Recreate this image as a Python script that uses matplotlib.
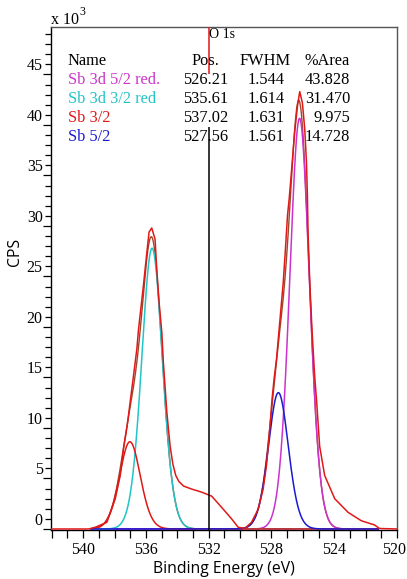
import numpy as np
import matplotlib
matplotlib.use("Agg")
import matplotlib.pyplot as plt
from matplotlib.ticker import MultipleLocator
from matplotlib.transforms import ScaledTranslation

# ---- data ----
# measured spectrum: binding energy (eV) and CPS (x10^3)
data_be = [542.0, 539.65, 539.23, 538.49, 537.96, 537.64, 537.43, 537.19, 537.01, 536.79,
           536.58, 536.47, 536.16, 535.94, 535.80, 535.63, 535.42, 535.31, 535.16, 534.99,
           534.89, 534.67, 534.46, 534.28, 534.10, 533.90, 533.60, 533.08, 532.45, 531.81,
           531.18, 530.54, 530.12, 529.70, 529.27, 528.84, 528.53, 528.32, 528.11, 527.96,
           527.83, 527.68, 527.47, 527.25, 527.11, 526.98, 526.87, 526.73, 526.52, 526.34,
           526.20, 526.03, 525.88, 525.77, 525.71, 525.67, 525.56, 525.41, 525.25, 525.12,
           524.93, 524.61, 523.97, 523.12, 522.28, 521.43, 521.12, 520.0]
data_cps = [0.0, 0.0, 0.17, 0.66, 2.97, 5.28, 7.92, 10.3, 12.5, 15.2,
            17.8, 19.8, 24.1, 27.4, 29.4, 29.8, 28.7, 25.7, 22.4, 19.5,
            16.5, 11.6, 8.2, 6.4, 5.3, 4.7, 4.25, 3.95, 3.65, 3.25,
            2.15, 1.0, 0.17, 0.05, 0.66, 1.98, 3.96, 6.27, 9.9, 12.9,
            14.9, 16.8, 20.5, 24.4, 27.7, 31.0, 32.7, 35.3, 39.3, 41.9,
            43.3, 42.2, 39.6, 36.3, 33.0, 29.4, 24.4, 19.5, 15.2, 12.6,
            8.2, 5.3, 3.0, 1.65, 0.82, 0.4, 0.05, 0.0]

# fitted components (table values + peak heights, x10^3)
comp_names = ["Sb 3d 5/2 red.", "Sb 3d 3/2 red", "Sb 3/2", "Sb 5/2"]
comp_pos = [526.21, 535.61, 537.02, 527.56]
comp_fwhm = [1.544, 1.614, 1.631, 1.561]
comp_area = [43.828, 31.470, 9.975, 14.728]
comp_height = [40.66, 27.8, 8.64, 13.5]
comp_colors = ["#cc33cc", "#22c4c8", "#e01818", "#1a1ad0"]

x_ticks = [540, 536, 532, 528, 524, 520]

region = (539.5, 521.2)  # fit region (eV)

plt.rcParams['font.family'] = ['Liberation Serif', 'DejaVu Serif']

fig = plt.figure(figsize=(4.07, 5.79), dpi=100)
ax = fig.add_axes([51/407, 49/579, 346/407, 503/579])

# components: GL(30) line shape from table parameters
be = np.linspace(region[0], region[1], 800)
env = np.zeros_like(be)
comps = []
for p, f, h in zip(comp_pos, comp_fwhm, comp_height):
    u = (be - p) ** 2 / f ** 2
    y = h * np.exp(-4 * np.log(2) * 0.7 * u) / (1 + 4 * 0.3 * u)
    comps.append(y)
    env += y

ax.plot(be, np.zeros_like(be), color="#1a1ad0", lw=1.1, zorder=2)
ax.plot(be, env, color="#9a4a2a", lw=1.0, zorder=3)
for y, c in zip(comps, comp_colors):
    ax.plot(be, y, color=c, lw=1.1, zorder=4)
ax.plot(data_be, data_cps, color="#e01818", lw=1.1, zorder=5)

# marker lines
ax.vlines(532, 45.0, 49.7, color="#e01818", lw=1.1, zorder=6)
ax.vlines(532, -0.1, 39.8, color="black", lw=1.1, zorder=6)
ax.text(532, 49.0, "O 1s", fontsize=10, ha="left", va="center", zorder=7)

ax.set_xlim(542.05, 520.0)
ax.set_ylim(-0.1, 49.7)

ax.set_xticks(x_ticks)
ax.xaxis.set_minor_locator(MultipleLocator(1))
ax.yaxis.set_major_locator(MultipleLocator(5))
ax.yaxis.set_minor_locator(MultipleLocator(1))
ax.tick_params(axis='x', which='both', direction='out', length=6, width=0.9, labelsize=11.5, pad=3)
ax.tick_params(axis='y', which='major', direction='out', length=6, width=0.9, labelsize=11.5, pad=0)
ax.tick_params(axis='y', which='minor', direction='out', length=4, width=0.9)
for lab in ax.get_yticklabels():
    lab.set_va('bottom')

for s in ['left', 'bottom']:
    ax.spines[s].set_color('black')
    ax.spines[s].set_linewidth(1.0)
for s in ['top', 'right']:
    ax.spines[s].set_color('#555555')
    ax.spines[s].set_linewidth(1.0)

fig.text(224/407, 1 - 569/579, "Binding Energy (eV)", family="Open Sans", fontsize=11.3,
         ha="center", va="center")
fig.text(15/407, 1 - 252/579, "CPS", family="Open Sans", fontsize=11.3,
         rotation=90, ha="center", va="center")

# x10^3 label
fig.text(51/407, 1 - 20/579, "x 10", fontsize=11.5, ha="left", va="center")
fig.text(79/407, 1 - 12/579, "3", fontsize=8.5, ha="left", va="center")

# table
tf = 11.8
def ty(ypix):
    return 1 - ypix / 579
fig.text(68/407, ty(61), "Name", fontsize=tf, ha="left", va="center")
fig.text(205/407, ty(61), "Pos.", fontsize=tf, ha="center", va="center")
fig.text(265/407, ty(61), "FWHM", fontsize=tf, ha="center", va="center")
fig.text(350/407, ty(61), "%Area", fontsize=tf, ha="right", va="center")
rows_y = [80, 99, 118, 137]
for i in range(4):
    fig.text(68/407, ty(rows_y[i]), comp_names[i], fontsize=tf, color=comp_colors[i], ha="left", va="center")
    fig.text(228/407, ty(rows_y[i]), f"{comp_pos[i]:.2f}", fontsize=tf, ha="right", va="center")
    fig.text(285/407, ty(rows_y[i]), f"{comp_fwhm[i]:.3f}", fontsize=tf, ha="right", va="center")
    fig.text(350/407, ty(rows_y[i]), f"{comp_area[i]:.3f}", fontsize=tf, ha="right", va="center")

# nudge the last x tick label so it stays inside the canvas
fig.canvas.draw()
last = ax.xaxis.get_major_ticks()[-1].label1
last.set_transform(last.get_transform() + ScaledTranslation(-3/100, 0, fig.dpi_scale_trans))

fig.savefig("out.png", dpi=100)
